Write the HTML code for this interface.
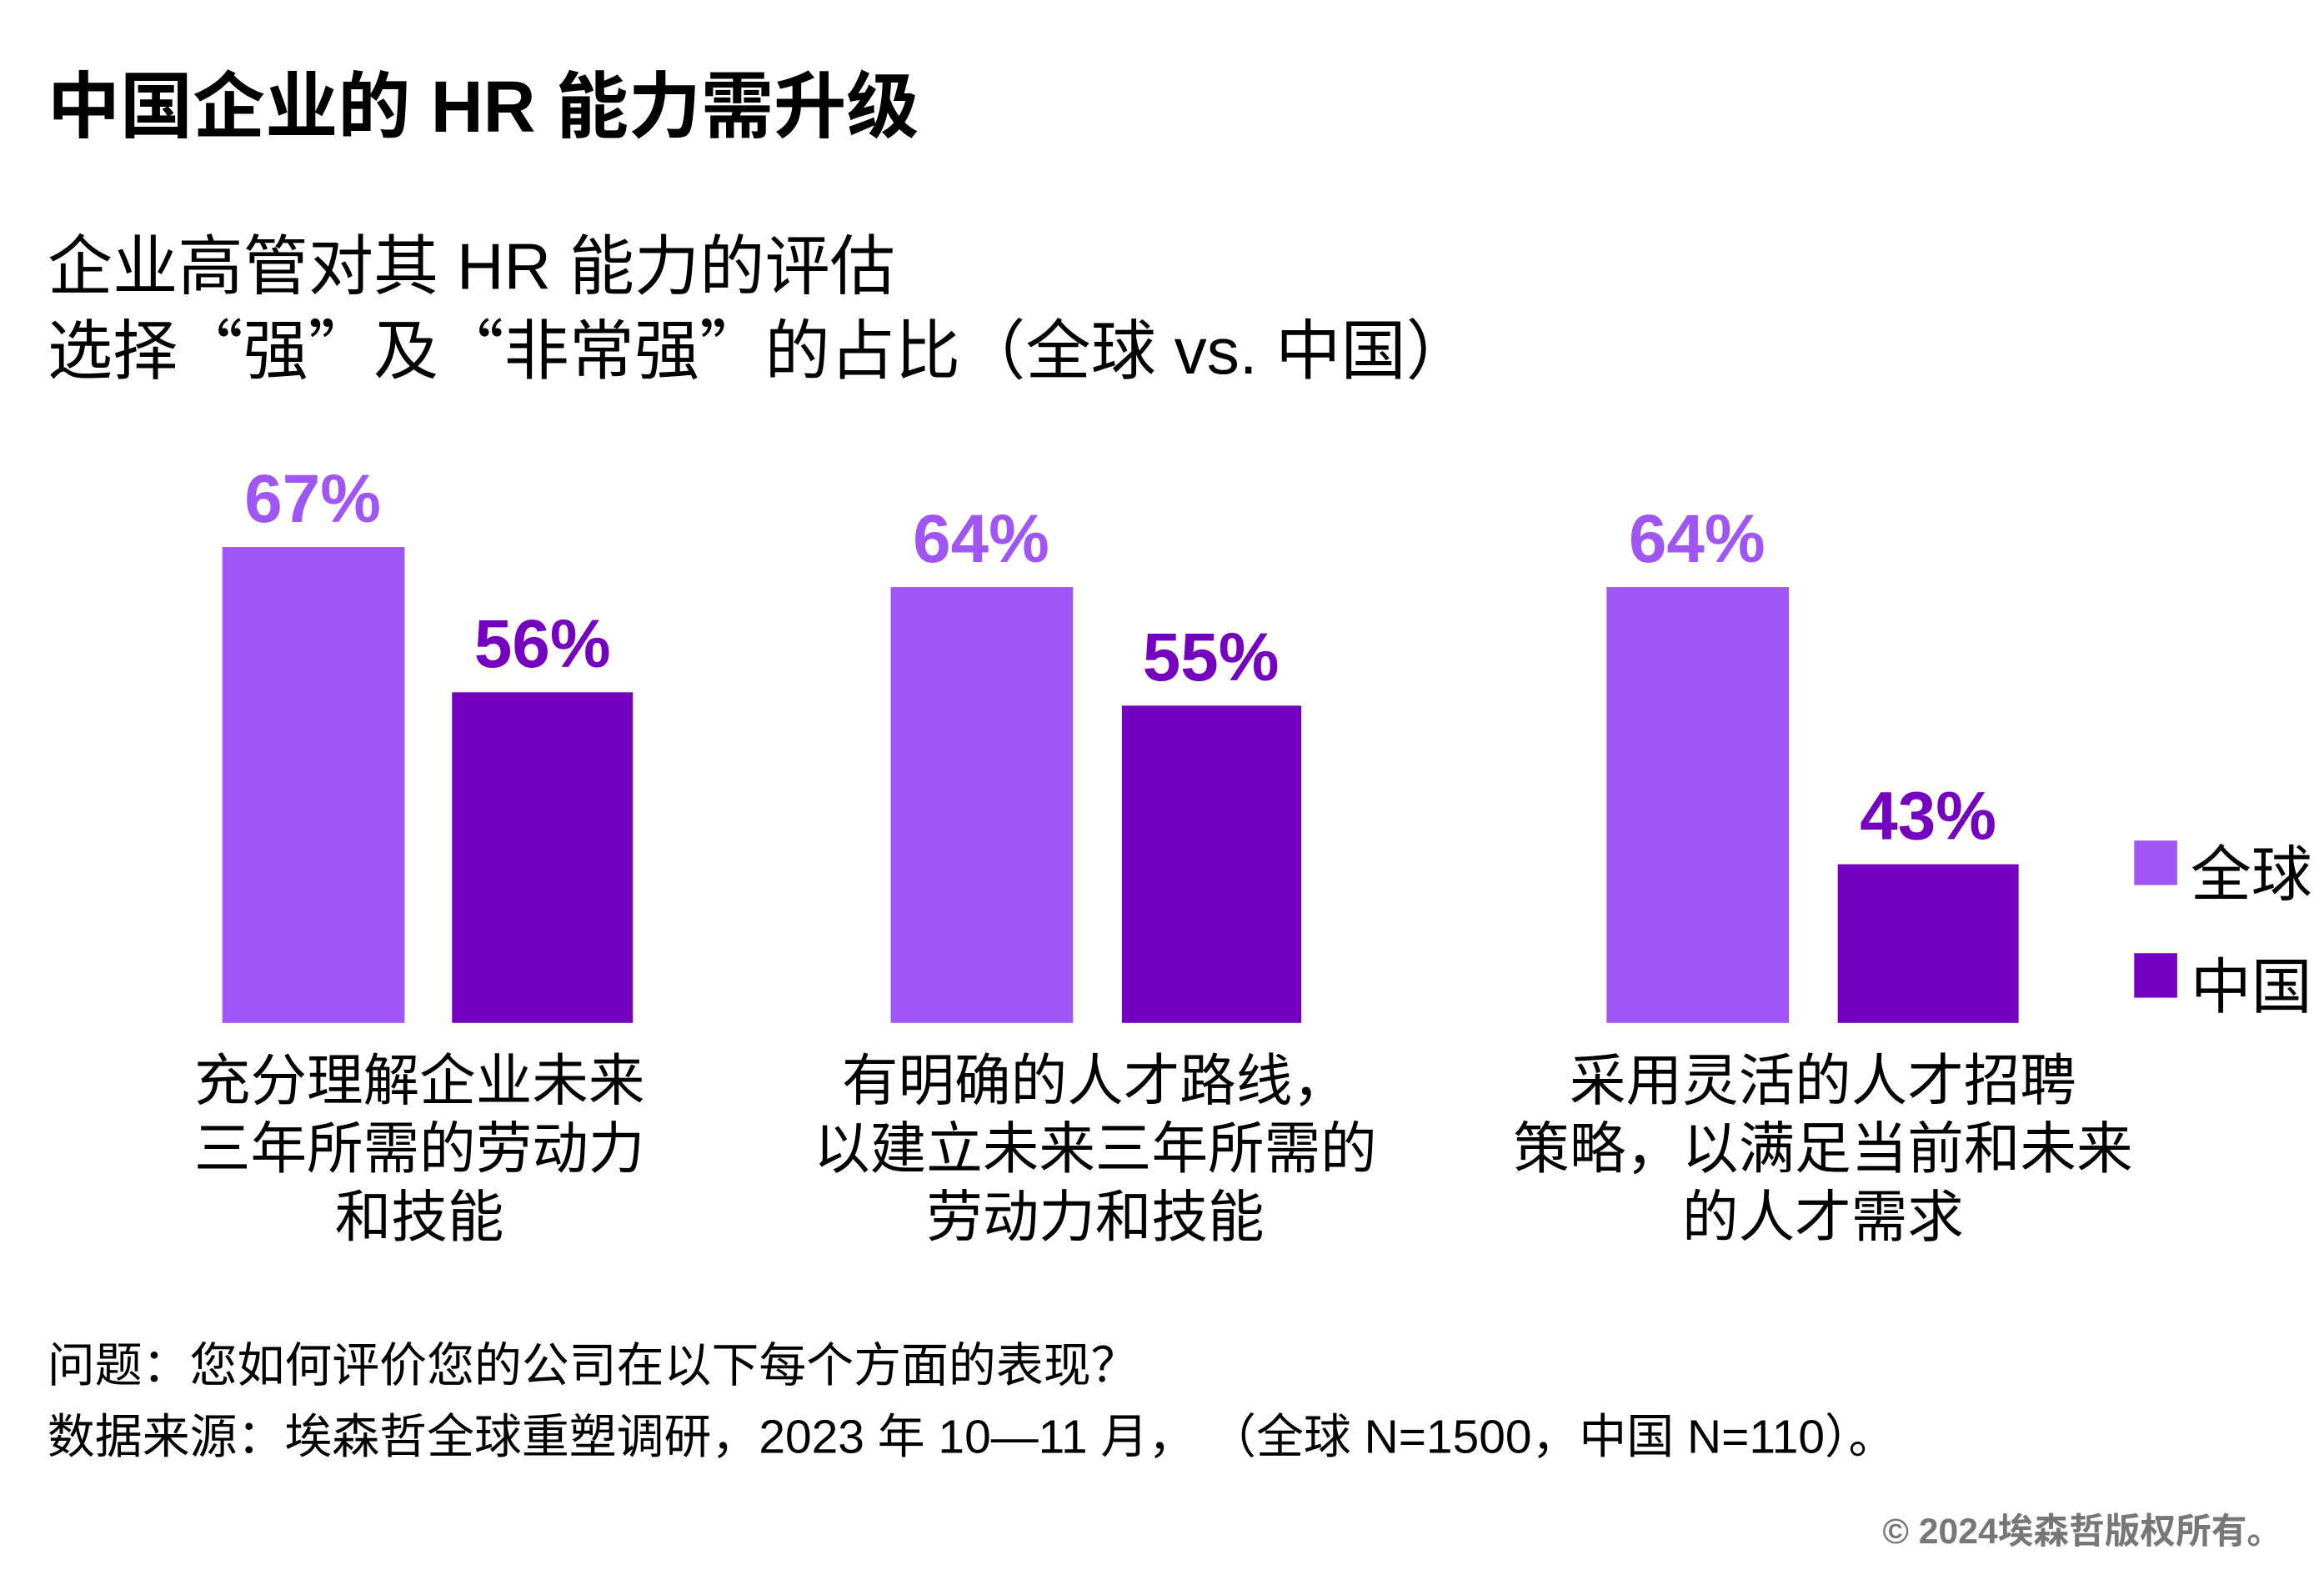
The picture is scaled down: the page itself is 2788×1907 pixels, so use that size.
<!DOCTYPE html>
<html><head><meta charset="utf-8"><style>
html,body{margin:0;padding:0;background:#fff;}
body{width:2788px;height:1907px;overflow:hidden;}
#s{position:absolute;left:0;top:0;width:1568px;height:1072px;transform:scale(1.778);transform-origin:0 0;font-family:"Liberation Sans","Noto Sans CJK SC",sans-serif;color:#000;}
.a{position:absolute;white-space:nowrap;}
.g{background:#a055f5;position:absolute;}
.c{background:#7500c0;position:absolute;}
.v{position:absolute;font-weight:bold;font-size:46px;width:200px;text-align:center;line-height:1;}
.cat{position:absolute;font-size:38px;line-height:46px;text-align:center;width:480px;}
.k{font-family:"Noto Sans CJK SC",sans-serif;}
</style></head><body><div id="s">
<div class="a" style="left:32px;top:33px;font-size:49px;font-weight:bold;">中国企业的 HR 能力需升级</div>
<div class="a" style="left:32px;top:154px;font-size:44px;line-height:53px;">企业高管对其 HR 能力的评估<br>选择<span class="k">“</span>强<span class="k">”</span>及<span class="k">“</span>非常强<span class="k">”</span>的占比<span class="k">（</span>全球 vs. 中国<span class="k">）</span></div>

<div class="g" style="left:150px;top:369px;width:123px;height:321px"></div>
<div class="c" style="left:305px;top:467px;width:122px;height:223px"></div>
<div class="g" style="left:601px;top:396px;width:123px;height:294px"></div>
<div class="c" style="left:757px;top:476px;width:121px;height:214px"></div>
<div class="g" style="left:1084px;top:396px;width:123px;height:294px"></div>
<div class="c" style="left:1240px;top:583px;width:122px;height:107px"></div>

<div class="v" style="left:111px;top:313px;color:#a055f5">67%</div>
<div class="v" style="left:266px;top:411px;color:#7500c0">56%</div>
<div class="v" style="left:562px;top:340px;color:#a055f5">64%</div>
<div class="v" style="left:717px;top:420px;color:#7500c0">55%</div>
<div class="v" style="left:1045px;top:340px;color:#a055f5">64%</div>
<div class="v" style="left:1201px;top:527px;color:#7500c0">43%</div>

<div class="g" style="left:1440px;top:567px;width:29px;height:30px"></div>
<div class="a" style="left:1478px;top:556px;font-size:41px;">全球</div>
<div class="c" style="left:1440px;top:643px;width:29px;height:30px"></div>
<div class="a" style="left:1478px;top:632px;font-size:41px;">中国</div>

<div class="cat" style="left:43px;top:707px">充分理解企业未来<br>三年所需的劳动力<br>和技能</div>
<div class="cat" style="left:499px;top:707px">有明确的人才路线，<br>以建立未来三年所需的<br>劳动力和技能</div>
<div class="cat" style="left:990px;top:707px">采用灵活的人才招聘<br>策略，以满足当前和未来<br>的人才需求</div>

<div class="a" style="left:32px;top:898px;font-size:32px;line-height:46px;">问题：您如何评价您的公司在以下每个方面的表现？<br>数据来源：埃森哲全球重塑调研，2023 年 10—11 月，&nbsp;<span class="k">（</span>全球 N=1500，中国 N=110<span class="k">）</span>。</div>
<div class="a" style="right:28px;top:1013px;font-size:24px;color:#777;font-weight:bold;">© 2024埃森哲版权所有。</div>
</div></body></html>
